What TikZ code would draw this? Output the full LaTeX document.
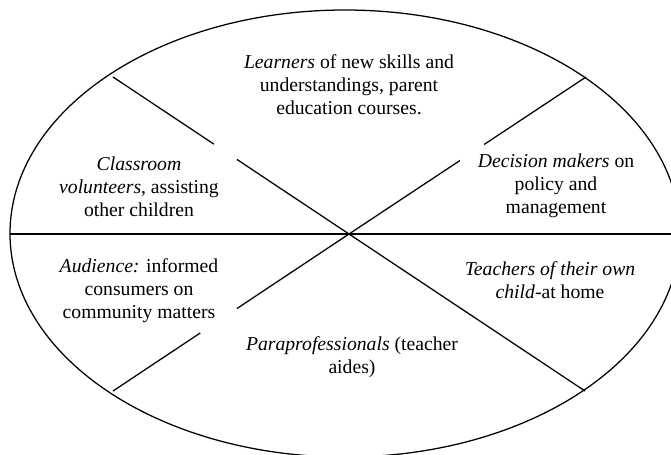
\documentclass[tikz,border=0pt]{standalone}
\usepackage{fontspec}
\setmainfont{Liberation Serif}
\usetikzlibrary{calc}

\begin{document}
\begin{tikzpicture}[
    x=0.025cm, y=-0.025cm, % one unit per pixel, y pointing down
    % Styles
    role/.style={ % Text inside a sector
        align=center,
        inner sep=0pt,
        font=\fontsize{14}{16.3}\selectfont
    },
    divider/.style={ % Ellipse outline and sector lines
        line width=0.9pt
    }
]
    \useasboundingbox (0,0) rectangle (671,454);
    \clip (0,0) rectangle (671,454);

    % Outer ellipse
    \draw[divider] (345,233.5) ellipse [x radius=335, y radius=223.5];

    % Centre and the points where the lines meet the ellipse
    \coordinate (c) at (349,234);
    \coordinate (ul) at (113,77);
    \coordinate (ur) at (586,77);
    \coordinate (ll) at (113,391);
    \coordinate (lr) at (585,391);
    \coordinate (w) at (10,234);
    \coordinate (e) at (671,234);

    % Sector lines, broken where the text sits
    \draw[divider] (w) -- (e);
    \draw[divider] (ul) -- ($(c)!0.572!(ul)$);
    \draw[divider] ($(c)!0.475!(ul)$) -- (c) -- (lr);
    \draw[divider] (ur) -- ($(c)!0.57!(ur)$);
    \draw[divider] ($(c)!0.468!(ur)$) -- (c) -- ($(c)!0.475!(ll)$);
    \draw[divider] ($(c)!0.63!(ll)$) -- (ll);

    % Sector texts
    \node[role] (learners) at (349,85) {\textit{Learners} of new skills and\\understandings, parent\\education courses.};
    \node[role] (volunteers) at (139,187) {\textit{Classroom}\\\textit{volunteers}, assisting\\other children};
    \node[role] (deciders) at (556,186) {\textit{Decision makers} on\\policy and\\management};
    \node[role] (audience) at (139,291) {\textit{Audience:} informed\\consumers on\\community matters};
    \node[role] (teachers) at (550,280) {\textit{Teachers of their own}\\\textit{child}-at home};
    \node[role] (aides) at (352,357) {\textit{Paraprofessionals} (teacher\\aides)};
\end{tikzpicture}
\end{document}
